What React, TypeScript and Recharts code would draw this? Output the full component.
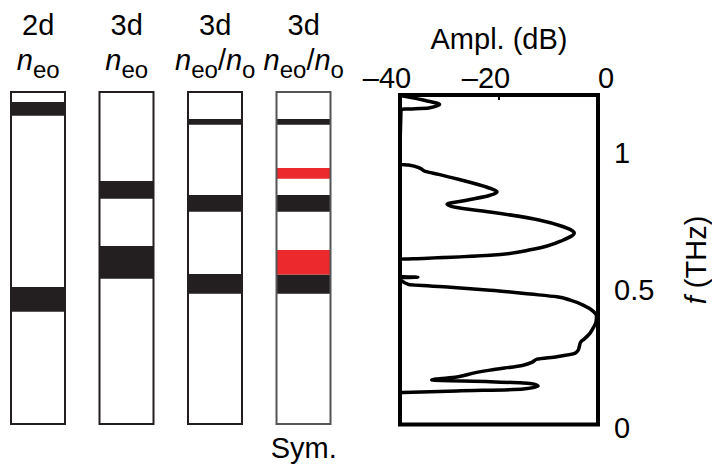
import React from 'react';
import { BarChart, Bar, Cell, XAxis, YAxis, LineChart, Line, ReferenceArea, Label } from 'recharts';

const FONT = '"Liberation Sans", Arial, Helvetica, sans-serif';
const INK = '#231F20';
const RED = '#EC2A2E';

// left panel: band diagrams, one column per structure
const dims = ['2d', '3d', '3d', '3d'];
const hosts = ['neo', 'neo', 'neo/no', 'neo/no'];
const notes = ['', '', '', 'Sym.'];
const blackBands = [
    [[0.406, 0.495], [1.114, 1.164]],
    [[0.525, 0.643], [0.814, 0.878]],
    [[0.471, 0.542], [0.767, 0.828], [1.082, 1.102]],
    [[0.471, 0.540], [0.767, 0.828], [1.082, 1.102]],
];
const redBands = [[], [], [], [[0.540, 0.629], [0.886, 0.925]]];
const fMax = 1.2;

// right panel: amplitude spectrum (null = curve leaves the axis on the left)
const freq = [
    1.198, 1.180, 1.165, 1.153, 1.147, 1.05,
    0.947, 0.945, 0.933, 0.922, 0.911, 0.893, 0.864, 0.847, 0.835, 0.816, 0.802, 0.791,
    0.774, 0.744, 0.722, 0.697, 0.671, 0.638, 0.616, 0.605, 0.602, 0.57,
    0.5385, 0.5365, 0.5345, 0.52,
    0.510, 0.500, 0.489, 0.475, 0.465, 0.453, 0.435, 0.413, 0.395, 0.373, 0.351, 0.333,
    0.311, 0.300, 0.282, 0.271, 0.260, 0.247, 0.238, 0.227, 0.216, 0.198, 0.187, 0.173,
    0.162, 0.156, 0.149, 0.140, 0.129, 0.122, 0.116,
];
const ampl = [
    -40, -34.9, -32.0, -34.2, -39.8, null,
    -40, -38.3, -35.9, -34.9, -32.2, -28.2, -22.4, -20.4, -21.8, -26.8, -30.5, -28.8,
    -21.8, -11.7, -7.3, -4.8, -7.1, -13.1, -21.8, -35.3, -40, null,
    -40, -36.4, -40, null,
    -38.3, -29.8, -21.8, -13.7, -8.3, -5.6, -3.0, -1.0, -0.3, -0.4, -1.0, -1.6,
    -2.8, -3.5, -3.8, -4.0, -4.6, -8.3, -12.3, -13.3, -15.1, -21.8, -25.2, -28.5,
    -33.6, -21.8, -13.7, -12.1, -15.1, -28.5, -40,
];
const ampTicks = [-40, -20, 0];
const freqTicks = [0, 0.5, 1];

const bandRows = dims.map((d, i) => ({
    name: `${d} ${hosts[i]} ${notes[i]}`,
    frame: [0, fMax],
    b0: blackBands[i][0],
    b1: blackBands[i][1],
    b2: blackBands[i][2],
    r0: redBands[i][0],
    r1: redBands[i][1],
}));

const spectrum = freq.map((f, i) => ({ f, amp: ampl[i] }));

// column header (2d / n_eo) and the note under the column
const HeaderTick = ({ x, y, index }: any) => {
    const parts = hosts[index].split('/');
    return (
        <g fontFamily={FONT} fill="#000">
            <text x={x} y={y - 57} textAnchor="middle" fontSize={29}>{dims[index]}</text>
            <text x={x} y={y - 22} textAnchor="middle" fontSize={29}>
                {parts.map((p, k) => (
                    <React.Fragment key={k}>
                        {k > 0 && <tspan dy={-8}>/</tspan>}
                        <tspan fontStyle="italic">{p[0]}</tspan>
                        <tspan fontSize={24} dy={8}>{p.slice(1)}</tspan>
                    </React.Fragment>
                ))}
            </text>
            {notes[index] && (
                <text x={x} y={y + 366} textAnchor="middle" fontSize={29}>{notes[index]}</text>
            )}
        </g>
    );
};

const AmpTick = ({ x, y, payload }: any) => {
    const v = payload.value;
    return (
        <text x={x + (v < 0 ? -13 : 8)} y={y - 12} textAnchor="middle" fontSize={29} fontFamily={FONT} fill="#000">
            {(v < 0 ? '\u2013' : '') + Math.abs(v)}
        </text>
    );
};

const FreqTick = ({ x, y, payload }: any) => (
    <text x={x} y={y + 13} textAnchor="start" fontSize={29} fontFamily={FONT} fill="#000">
        {String(payload.value)}
    </text>
);

export default function App() {
    return (
        <div style={{ position: 'absolute', left: 0, top: 0, width: 712, height: 466, background: '#fff', overflow: 'hidden' }}>
            {/* band diagrams */}
            <div style={{ position: 'absolute', left: -6, top: 0 }}>
                <BarChart width={354} height={466} data={bandRows} barGap={-54}
                    margin={{ top: 0, right: 0, bottom: 42, left: 0 }}>
                    <XAxis dataKey="name" orientation="top" height={92} axisLine={false} tickLine={false}
                        tickSize={0} tickMargin={0} interval={0} tick={<HeaderTick />} />
                    <YAxis type="number" domain={[0, fMax]} hide />
                    <Bar dataKey="b0" fill={INK} barSize={54} isAnimationActive={false} />
                    <Bar dataKey="b1" fill={INK} barSize={54} isAnimationActive={false} />
                    <Bar dataKey="b2" fill={INK} barSize={54} isAnimationActive={false} />
                    <Bar dataKey="r0" fill={RED} barSize={54} isAnimationActive={false} />
                    <Bar dataKey="r1" fill={RED} barSize={54} isAnimationActive={false} />
                    <Bar dataKey="frame" fill="none" stroke={INK} strokeWidth={2} barSize={54} isAnimationActive={false}>
                        {bandRows.map((r, i) => (
                            <Cell key={r.name} fill="none" stroke={i === 3 ? '#555' : INK} />
                        ))}
                    </Bar>
                </BarChart>
            </div>

            {/* spectrum */}
            <div style={{ position: 'absolute', left: 340, top: 0 }}>
                <LineChart width={372} height={466} data={spectrum} layout="vertical"
                    margin={{ top: 0, right: 0, bottom: 0, left: 60 }}>
                    <XAxis type="number" orientation="top" domain={[-40, 0]} ticks={ampTicks} height={95}
                        axisLine={false} tickSize={-5} tickMargin={0} tickLine={{ stroke: '#000', strokeWidth: 2 }}
                        tick={<AmpTick />} allowDataOverflow>
                        <Label value="Ampl. (dB)" position="insideTop" offset={28} fontSize={29} fill="#000" fontFamily={FONT} />
                    </XAxis>
                    <XAxis xAxisId="b" type="number" orientation="bottom" domain={[-40, 0]} ticks={ampTicks} height={41.5}
                        axisLine={false} tick={false} tickSize={-5} tickLine={{ stroke: '#000', strokeWidth: 2 }} />
                    <YAxis type="number" dataKey="f" orientation="right" domain={[0, fMax]} ticks={freqTicks} width={114}
                        reversed axisLine={false} tickLine={false} tickSize={0} tickMargin={16} tick={<FreqTick />} allowDataOverflow>
                        <Label content={() => (
                            <text x={366} y={260} transform="rotate(-90, 366, 260)" textAnchor="middle"
                                fontSize={29} fontFamily={FONT} fill="#000">
                                <tspan fontStyle="italic">f</tspan>
                                <tspan>{' (THz)'}</tspan>
                            </text>
                        )} />
                    </YAxis>
                    <YAxis yAxisId="l" type="number" orientation="left" domain={[0, fMax]} ticks={freqTicks} width={0}
                        reversed axisLine={false} tick={false} tickSize={4} tickLine={{ stroke: '#000', strokeWidth: 2.5 }} />
                    <Line dataKey="amp" type="monotone" stroke="#000" strokeWidth={3.5} dot={false}
                        strokeLinejoin="round" strokeLinecap="round" isAnimationActive={false} />
                    <ReferenceArea x1={-40} x2={0} y1={0} y2={fMax} fill="none" stroke="#000" strokeWidth={4} />
                </LineChart>
            </div>
        </div>
    );
}
